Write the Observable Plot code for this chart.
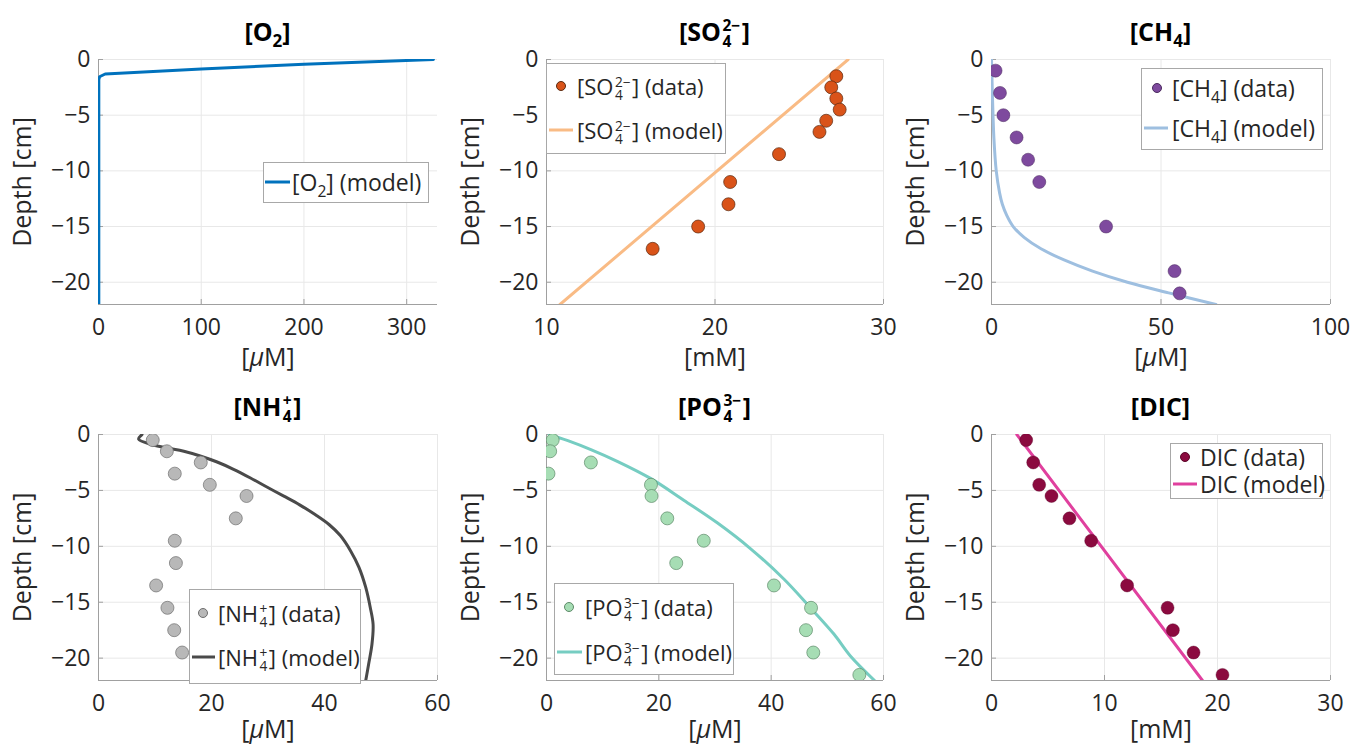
<!DOCTYPE html>
<html><head><meta charset="utf-8">
<script src="https://cdn.jsdelivr.net/npm/d3@7"></script>
<script src="https://cdn.jsdelivr.net/npm/@observablehq/plot@0.6"></script>
<style>
html,body{margin:0;padding:0;background:#fff;}
#root{position:relative;width:1354px;height:745px;overflow:hidden;font-family:'Open Sans','Noto Sans',sans-serif;color:#262626;}
.panel{position:absolute;}
.title{position:absolute;transform:translate(-50%,-50%);font-weight:bold;font-size:25px;color:#000;white-space:nowrap;line-height:1;}
.lbox{position:absolute;background:#fff;border:1px solid #a8a8a8;box-sizing:border-box;}
.ltext{position:absolute;font-size:23px;white-space:nowrap;line-height:1;transform:translateY(-50%);color:#262626;}
.ltext.small{font-size:22px;}
.ldot{position:absolute;border-radius:50%;transform:translate(-50%,-50%);box-sizing:border-box;}
.lline{position:absolute;height:3px;transform:translateY(-50%);}
.sb{font-size:0.68em;position:relative;top:0.38em;}
.ss{display:inline-flex;flex-direction:column;font-size:0.62em;line-height:1;position:relative;top:-0.62em;margin:-2em 1.5px;}
.ss > span{display:block;line-height:1;}
</style>
</head><body>
<div id="root"></div>
<script>
// ---------------- data ----------------
const depthTicks = [-20, -15, -10, -5, 0];
const depthDomain = [-22, 0];

// O2 (model only) [µM]
const o2ModelDepth = [0, -0.43, -0.85, -1.3, -1.55, -1.8, -22];
const o2Model      = [326, 200, 100, 6.5, 1.0, 0.3, 0.3];
const o2Domain = [0, 330];
const o2Ticks = [0, 100, 200, 300];

// SO4 [mM]
const so4Depth = [-1.5, -2.5, -3.5, -4.5, -5.5, -6.5, -8.5, -11, -13, -15, -17];
const so4Data  = [27.2, 26.9, 27.2, 27.4, 26.6, 26.2, 23.8, 20.9, 20.8, 19.0, 16.3];
const so4ModelDepth = [0, -22];
const so4Model      = [27.9, 10.8];
const so4Domain = [10, 30];
const so4Ticks = [10, 20, 30];

// CH4 [µM]
const ch4Depth = [-1, -3, -5, -7, -9, -11, -15, -19, -21];
const ch4Data  = [1.2, 2.5, 3.5, 7.4, 10.8, 14.1, 33.8, 54.0, 55.5];
const ch4ModelDepth = [0, -3.5, -7, -10, -12, -13, -14, -15, -16, -17, -18, -19, -20, -21, -22];
const ch4Model      = [0, 0.3, 0.7, 1.4, 2.4, 3.2, 4.5, 6.4, 9.7, 14.6, 21.4, 29.8, 40.1, 52.9, 66.2];
const ch4Domain = [0, 100];
const ch4Ticks = [0, 50, 100];

// NH4 [µM]
const nh4Depth = [-0.5, -1.5, -2.5, -3.5, -4.5, -5.5, -7.5, -9.5, -11.5, -13.5, -15.5, -17.5, -19.5];
const nh4Data  = [9.6, 12.1, 18.1, 13.5, 19.7, 26.2, 24.3, 13.5, 13.7, 10.2, 12.2, 13.4, 14.8];
const nh4ModelDepth = [0, -0.42, -0.87, -1.2, -1.5, -1.92, -2.46, -3.11, -3.89, -4.7, -5.51, -6.29, -7.18, -8.05, -9.04, -10.39, -11.88, -13.68, -15.47, -16.97, -18.76, -20.56, -22];
const nh4Model      = [7.7, 7.1, 9.2, 12.1, 15.1, 18.0, 21.0, 23.9, 26.9, 29.8, 32.8, 35.6, 38.4, 40.8, 42.8, 44.6, 46.1, 47.3, 48.1, 48.6, 48.4, 47.8, 47.3];
const nh4Domain = [0, 60];
const nh4Ticks = [0, 20, 40, 60];

// PO4 [µM]
const po4Depth = [-0.5, -1.5, -3.5, -2.5, -4.5, -5.5, -7.5, -9.5, -11.5, -13.5, -15.5, -17.5, -19.5, -21.5];
const po4Data  = [1.1, 0.65, 0.35, 7.9, 18.6, 18.7, 21.5, 28.0, 23.1, 40.5, 47.1, 46.2, 47.5, 55.7];
const po4ModelDepth = [0, -0.55, -1.35, -2.4, -3.95, -5.9, -7.9, -10.2, -12.95, -15.56, -17.87, -19.81, -22];
const po4Model      = [0.5, 3.8, 7.9, 12.6, 18.6, 24.5, 30.4, 36.3, 42.3, 47.1, 51.2, 54.1, 58.4];
const po4Domain = [0, 60];
const po4Ticks = [0, 20, 40, 60];

// DIC [mM]
const dicDepth = [-0.5, -2.5, -4.5, -5.5, -7.5, -9.5, -13.5, -15.5, -17.5, -19.5, -21.5];
const dicData  = [3.07, 3.69, 4.22, 5.31, 6.9, 8.82, 12.0, 15.58, 16.05, 17.88, 20.44];
const dicModelDepth = [0, -22];
const dicModel      = [2.24, 18.67];
const dicDomain = [0, 30];
const dicTicks = [0, 10, 20, 30];

// ---------------- layout ----------------
const root = document.getElementById("root");
const FONT = "'Open Sans','Noto Sans',sans-serif";
const AX = "#a0a0a0", GRID = "#e8e8e8", TXT = "#262626";
const ML = 110, MR = 20, MT = 12, MB = 80;

const cols = [{L: 98, w: 339}, {L: 546, w: 337}, {L: 991, w: 339}];
const rows = [{T: 59, h: 245, titleY: 31, xlo: 61}, {T: 434, h: 246, titleY: 406, xlo: 57}];

function chem(base, sub, sup) {
  if (sup) return `[${base}<span class="ss"><span>${sup}</span><span>${sub}</span></span>]`;
  if (sub) return `[${base}<span class="sb">${sub}</span>]`;
  return `[${base}]`;
}

function addPanel(c, r, cfg) {
  const {L, w} = cols[c], {T, h, titleY, xlo} = rows[r];
  const svg = Plot.plot({
    width: w + ML + MR, height: h + MT + MB,
    marginLeft: ML, marginRight: MR, marginTop: MT, marginBottom: MB,
    style: {fontFamily: FONT, fontSize: "23px", color: TXT, background: "transparent", overflow: "visible"},
    x: {domain: cfg.domain},
    y: {domain: depthDomain},
    marks: [
      Plot.gridX(cfg.ticks, {stroke: GRID, strokeOpacity: 1}),
      Plot.gridY(depthTicks, {stroke: GRID, strokeOpacity: 1}),
      Plot.ruleX([cfg.domain[0]], {stroke: AX}),
      Plot.ruleY([depthDomain[0]], {stroke: AX}),
      Plot.axisX(cfg.ticks, {tickSize: 5, dy: -5, tickFormat: () => "", label: null, stroke: AX}),
      Plot.axisY(depthTicks, {tickSize: 5, dx: 5, tickFormat: () => "", label: null, stroke: AX}),
      Plot.axisX(cfg.ticks, {tickSize: 0, tickPadding: 14, fill: TXT, label: cfg.xLabel, labelAnchor: "center", labelArrow: "none", labelOffset: xlo, fontSize: 23}),
      Plot.axisY(depthTicks, {tickSize: 0, tickPadding: 8, fill: TXT, label: "Depth [cm]", labelAnchor: "center", labelArrow: "none", labelOffset: 85, fontSize: 23}),
      ...cfg.marks
    ]
  });
  // italic mu in unit labels
  svg.querySelectorAll("text").forEach(t => {
    if (t.textContent === "[μM]") {
      t.textContent = "";
      const ns = "http://www.w3.org/2000/svg";
      const a = document.createElementNS(ns, "tspan"); a.textContent = "[";
      const b = document.createElementNS(ns, "tspan"); b.textContent = "μ"; b.setAttribute("font-style", "italic");
      const d = document.createElementNS(ns, "tspan"); d.textContent = "M]";
      t.append(a, b, d);
    }
  });
  svg.querySelectorAll("text").forEach(t => {
    if (t.textContent === "Depth [cm]" || t.textContent === "[μM]" || t.textContent === "[mM]") t.setAttribute("font-size", "25");
  });
  const div = document.createElement("div");
  div.className = "panel";
  div.style.left = (L - ML) + "px";
  div.style.top = (T - MT) + "px";
  div.appendChild(svg);
  root.appendChild(div);

  const title = document.createElement("div");
  title.className = "title";
  title.style.left = (L + w / 2) + "px";
  title.style.top = titleY + "px";
  title.innerHTML = cfg.title;
  root.appendChild(title);

  // legend
  const lg = cfg.legend;
  const box = document.createElement("div");
  box.className = "lbox";
  Object.assign(box.style, {left: lg.x + "px", top: lg.y + "px", width: lg.w + "px", height: lg.h + "px"});
  root.appendChild(box);
  lg.rows.forEach(row => {
    if (row.kind === "dot") {
      const d = document.createElement("div");
      d.className = "ldot";
      Object.assign(d.style, {left: row.cx + "px", top: row.cy + "px", width: "10px", height: "10px", background: row.fill, border: `1px solid ${row.stroke}`});
      root.appendChild(d);
    } else {
      const l = document.createElement("div");
      l.className = "lline";
      Object.assign(l.style, {left: row.x1 + "px", top: row.cy + "px", width: (row.x2 - row.x1) + "px", background: row.color});
      root.appendChild(l);
    }
    const t = document.createElement("div");
    t.className = "ltext" + (lg.small ? " small" : "");
    t.style.left = row.tx + "px";
    t.style.top = row.cy + "px";
    t.innerHTML = row.html;
    root.appendChild(t);
  });
}

const dots = (vals, depth, fill, stroke, sw = 0.7) =>
  Plot.dot(vals, {x: d => d, y: depth, r: 6.5, fill, stroke, strokeWidth: sw, clip: true});
const line = (vals, depth, stroke, curve = "linear") =>
  Plot.line(vals, {x: d => d, y: depth, stroke, strokeWidth: 3, curve, clip: true});

// colors
const cO2 = "#0072BD";
const cSO4d = "#D95319", cSO4m = "#F9BB85";
const cCH4d = "#7E4A9E", cCH4m = "#9EBFE0";
const cNH4d = "#B8B8B8", cNH4m = "#4A4A4A";
const cPO4d = "#A6DDB4", cPO4m = "#76CDC2";
const cDICd = "#8B0A3F", cDICm = "#E0409E";

addPanel(0, 0, {
  domain: o2Domain, ticks: o2Ticks, xLabel: "[μM]", title: chem("O", "2"),
  marks: [line(o2Model, o2ModelDepth, cO2)],
  legend: {x: 263, y: 162, w: 166, h: 41, rows: [
    {kind: "line", x1: 265, x2: 290, cy: 182, color: cO2, tx: 292, html: chem("O", "2") + " (model)"}
  ]}
});
addPanel(1, 0, {
  domain: so4Domain, ticks: so4Ticks, xLabel: "[mM]", title: chem("SO", "4", "2−"),
  marks: [line(so4Model, so4ModelDepth, cSO4m), dots(so4Data, so4Depth, cSO4d, "#5a2a10")],
  legend: {x: 546, y: 63, w: 180, h: 91, small: true, rows: [
    {kind: "dot", cx: 561, cy: 86, fill: cSO4d, stroke: "#5a2a10", tx: 577, html: chem("SO", "4", "2−") + " (data)"},
    {kind: "line", x1: 549, x2: 573, cy: 130, color: cSO4m, tx: 577, html: chem("SO", "4", "2−") + " (model)"}
  ]}
});
addPanel(2, 0, {
  domain: ch4Domain, ticks: ch4Ticks, xLabel: "[μM]", title: chem("CH", "4"),
  marks: [line(ch4Model, ch4ModelDepth, cCH4m, "catmull-rom"), dots(ch4Data, ch4Depth, cCH4d, "#4a2a5e", 0.5)],
  legend: {x: 1141, y: 68, w: 182, h: 82, rows: [
    {kind: "dot", cx: 1157, cy: 88, fill: cCH4d, stroke: "#4a2a5e", tx: 1172, html: chem("CH", "4") + " (data)"},
    {kind: "line", x1: 1144, x2: 1168, cy: 128, color: cCH4m, tx: 1172, html: chem("CH", "4") + " (model)"}
  ]}
});
addPanel(0, 1, {
  domain: nh4Domain, ticks: nh4Ticks, xLabel: "[μM]", title: chem("NH", "4", "+"),
  marks: [line(nh4Model, nh4ModelDepth, cNH4m, "catmull-rom"), dots(nh4Data, nh4Depth, cNH4d, "#6e6e6e")],
  legend: {x: 189, y: 589, w: 172, h: 95, small: true, rows: [
    {kind: "dot", cx: 203, cy: 613, fill: cNH4d, stroke: "#6e6e6e", tx: 218, html: chem("NH", "4", "+") + " (data)"},
    {kind: "line", x1: 192, x2: 215, cy: 657, color: cNH4m, tx: 218, html: chem("NH", "4", "+") + " (model)"}
  ]}
});
addPanel(1, 1, {
  domain: po4Domain, ticks: po4Ticks, xLabel: "[μM]", title: chem("PO", "4", "3−"),
  marks: [line(po4Model, po4ModelDepth, cPO4m, "catmull-rom"), dots(po4Data, po4Depth, cPO4d, "#5d8a68")],
  legend: {x: 554, y: 583, w: 180, h: 92, small: true, rows: [
    {kind: "dot", cx: 569, cy: 607, fill: cPO4d, stroke: "#5d8a68", tx: 585, html: chem("PO", "4", "3−") + " (data)"},
    {kind: "line", x1: 557, x2: 582, cy: 652, color: cPO4m, tx: 585, html: chem("PO", "4", "3−") + " (model)"}
  ]}
});
addPanel(2, 1, {
  domain: dicDomain, ticks: dicTicks, xLabel: "[mM]", title: "[DIC]",
  marks: [line(dicModel, dicModelDepth, cDICm), dots(dicData, dicDepth, cDICd, "#5a0628", 0.4)],
  legend: {x: 1170, y: 443, w: 153, h: 56, rows: [
    {kind: "dot", cx: 1185, cy: 457, fill: cDICd, stroke: "#5a0628", tx: 1200, html: "DIC (data)"},
    {kind: "line", x1: 1173, x2: 1197, cy: 484, color: cDICm, tx: 1200, html: "DIC (model)"}
  ]}
});
</script>
</body></html>
